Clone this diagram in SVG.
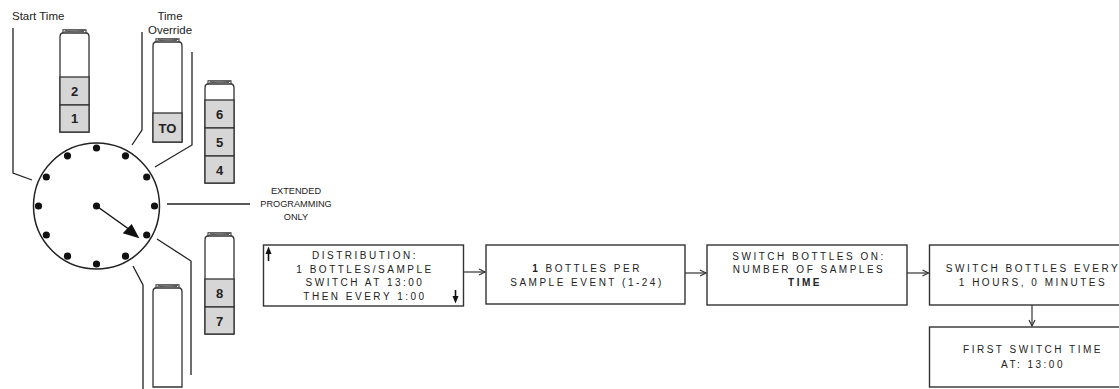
<svg xmlns="http://www.w3.org/2000/svg" width="1119" height="389" viewBox="0 0 1119 389">
<style>
.ln{fill:none;stroke:#222;stroke-width:1.3}
.box{fill:#fff;stroke:#333;stroke-width:1.4}
.bt{fill:#fff;stroke:#333;stroke-width:1.3}
.gr{fill:#d6d6d6;stroke:#333;stroke-width:1.3}
.num{font-family:"Liberation Sans",Arial,sans-serif;font-weight:bold;font-size:13px;fill:#222;text-anchor:middle}
.lbl{font-family:"Liberation Sans",Arial,sans-serif;font-size:11.5px;fill:#222}
.ext{font-family:"Liberation Sans",Arial,sans-serif;font-size:9.2px;fill:#222;text-anchor:middle}
.bx{font-family:"Liberation Sans",Arial,sans-serif;font-size:10px;fill:#222;text-anchor:middle;letter-spacing:2.5px}
.dot{fill:#111}
.con{fill:none;stroke:#333;stroke-width:1.2;marker-end:url(#ah)}
</style>
<defs>
<marker id="ah" markerUnits="userSpaceOnUse" markerWidth="10" markerHeight="10" refX="7" refY="4" orient="auto">
<path d="M1,1 L7,4 L1,7" fill="none" stroke="#333" stroke-width="1.2"/>
</marker>
<g id="cap">
<path d="M3,4 V0.8 H26 V4" fill="#fff" stroke="#333" stroke-width="1.1"/>
<path d="M4,2.8 L25,1.4 M5,1.6 L24,2.6" fill="none" stroke="#333" stroke-width="0.8"/>
</g>
</defs>
<rect width="1119" height="389" fill="#fff"/>

<g id="labels">
<text class="lbl" x="12" y="20">Start Time</text>
<text class="lbl" x="170" y="20" text-anchor="middle">Time</text>
<text class="lbl" x="170" y="34" text-anchor="middle">Override</text>
<text class="ext" x="296" y="193.5">EXTENDED</text>
<text class="ext" x="296" y="206.5">PROGRAMMING</text>
<text class="ext" x="296" y="219.5">ONLY</text>
</g>

<g id="leaders">
<path class="ln" d="M13,28 V173 L32,180"/>
<path class="ln" d="M142,32 V130 L132,145"/>
<path class="ln" d="M192,52 V145 L155,167"/>
<path class="ln" d="M167,204 H250"/>
<path class="ln" d="M157,239 L191,261 V375"/>
<path class="ln" d="M133,266 L143,285 V389"/>
</g>

<g id="clock">
<circle cx="96.5" cy="206" r="63" fill="none" stroke="#222" stroke-width="1.5"/>
<circle class="dot" cx="96.5" cy="148" r="3.6"/>
<circle class="dot" cx="125.5" cy="155.8" r="3.6"/>
<circle class="dot" cx="146.7" cy="177" r="3.6"/>
<circle class="dot" cx="154.5" cy="206" r="3.6"/>
<circle class="dot" cx="146.7" cy="235" r="3.6"/>
<circle class="dot" cx="125.5" cy="256.2" r="3.6"/>
<circle class="dot" cx="96.5" cy="264" r="3.6"/>
<circle class="dot" cx="67.5" cy="256.2" r="3.6"/>
<circle class="dot" cx="46.3" cy="235" r="3.6"/>
<circle class="dot" cx="38.5" cy="206" r="3.6"/>
<circle class="dot" cx="46.3" cy="177" r="3.6"/>
<circle class="dot" cx="67.5" cy="155.8" r="3.6"/>
<circle class="dot" cx="96.5" cy="206" r="3.6"/>
<path d="M96.5,206 L128,228.5" stroke="#111" stroke-width="1.5"/>
<polygon points="122.7,233.3 131.7,224 139.3,238.3" fill="#111"/>
</g>

<g id="bottle-start">
<use href="#cap" x="60" y="29"/>
<path class="bt" d="M60,132 V37 Q60,33 63,33 H86 Q89,33 89,37 V132 Z"/>
<rect class="gr" x="60" y="77" width="29" height="28"/>
<rect class="gr" x="60" y="105" width="29" height="27"/>
<text class="num" x="74.5" y="96">2</text>
<text class="num" x="74.5" y="123">1</text>
</g>

<g id="bottle-to">
<use href="#cap" x="153" y="38"/>
<path class="bt" d="M153,142 V46 Q153,42 156,42 H179 Q182,42 182,46 V142 Z"/>
<rect class="gr" x="153" y="113" width="29" height="29"/>
<text class="num" x="167.5" y="132.5">TO</text>
</g>

<g id="bottle-456">
<use href="#cap" x="205" y="80"/>
<path class="bt" d="M205,183 V88 Q205,84 208,84 H231 Q234,84 234,88 V183 Z"/>
<rect class="gr" x="205" y="100" width="29" height="28"/>
<rect class="gr" x="205" y="128" width="29" height="28"/>
<rect class="gr" x="205" y="156" width="29" height="27"/>
<text class="num" x="219.5" y="119">6</text>
<text class="num" x="219.5" y="147">5</text>
<text class="num" x="219.5" y="174.5">4</text>
</g>

<g id="bottle-78">
<use href="#cap" x="205" y="232"/>
<path class="bt" d="M205,334 V240 Q205,236 208,236 H231 Q234,236 234,240 V334 Z"/>
<rect class="gr" x="205" y="279" width="29" height="28"/>
<rect class="gr" x="205" y="307" width="29" height="27"/>
<text class="num" x="219.5" y="298">8</text>
<text class="num" x="219.5" y="325.5">7</text>
</g>

<g id="bottle-empty">
<use href="#cap" x="153" y="284"/>
<path class="bt" d="M153,387 V292 Q153,288 156,288 H179 Q182,288 182,292 V387 Z"/>
</g>

<g id="box-distribution">
<rect class="box" x="263.5" y="245" width="200" height="61"/>
<text class="bx" x="365" y="259">DISTRIBUTION:</text>
<text class="bx" x="365" y="272.5">1 BOTTLES/SAMPLE</text>
<text class="bx" x="365" y="286">SWITCH AT 13:00</text>
<text class="bx" x="365" y="299.5">THEN EVERY 1:00</text>
<path d="M268.5,254 V261" stroke="#111" stroke-width="1.6"/>
<polygon points="265.5,254 271.5,254 268.5,246.5" fill="#111"/>
<path d="M455.5,290 V297" stroke="#111" stroke-width="1.6"/>
<polygon points="452.5,296 458.5,296 455.5,303.5" fill="#111"/>
</g>

<g id="box-bottles-per">
<rect class="box" x="486" y="245" width="199" height="59"/>
<text class="bx" x="587" y="271.5"><tspan font-weight="bold">1</tspan> BOTTLES PER</text>
<text class="bx" x="587" y="286">SAMPLE EVENT (1-24)</text>
</g>

<g id="box-switch-on">
<rect class="box" x="707" y="245" width="200" height="60"/>
<text class="bx" x="809" y="259.5">SWITCH BOTTLES ON:</text>
<text class="bx" x="809" y="272.5">NUMBER OF SAMPLES</text>
<text class="bx" x="805" y="285.5" font-weight="bold">TIME</text>
</g>

<g id="box-switch-every">
<rect class="box" x="929.5" y="245" width="205" height="60"/>
<text class="bx" x="1033" y="271.5">SWITCH BOTTLES EVERY</text>
<text class="bx" x="1033" y="285.5">1 HOURS, 0 MINUTES</text>
</g>

<g id="box-first-switch">
<rect class="box" x="929.5" y="327" width="205" height="60"/>
<text class="bx" x="1033" y="352.5">FIRST SWITCH TIME</text>
<text class="bx" x="1033" y="367.5">AT: 13:00</text>
</g>

<g id="connectors">
<path class="con" d="M463.5,272 H485"/>
<path class="con" d="M685,273 H706"/>
<path class="con" d="M907,273 H928.5"/>
<path class="con" d="M1032,305 V326"/>
</g>
</svg>
